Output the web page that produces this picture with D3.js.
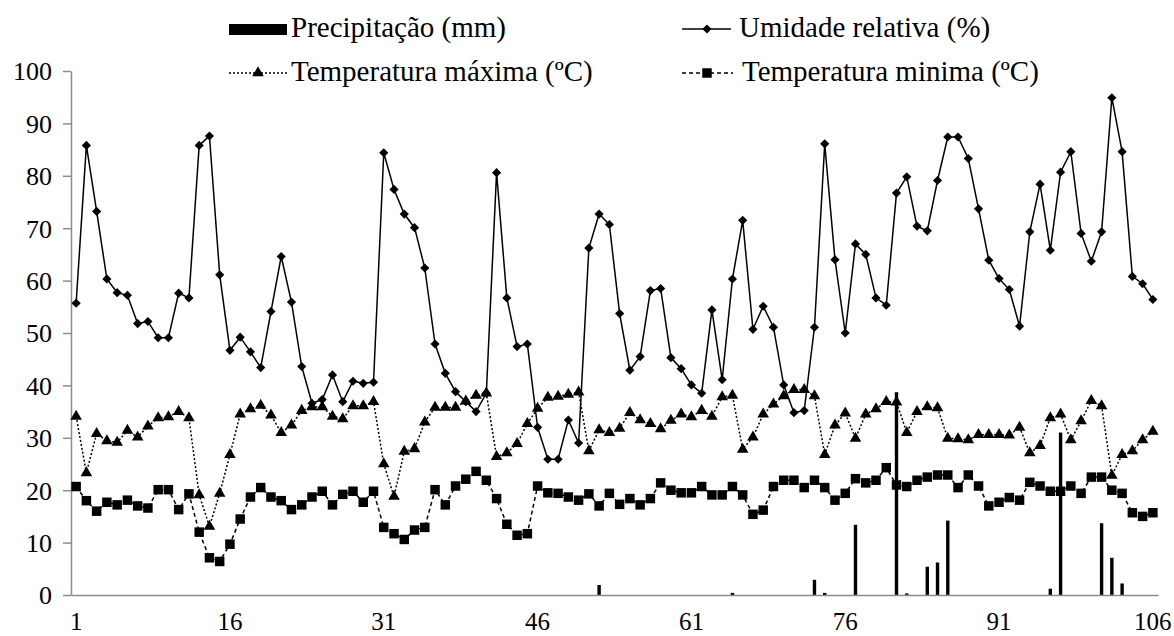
<!DOCTYPE html>
<html><head><meta charset="utf-8">
<script src="https://cdn.jsdelivr.net/npm/d3@7"></script>
<style>
body{margin:0;background:#fff}
</style></head>
<body><svg id="c" width="1174" height="636"></svg>
<script>
const days = d3.range(1, 107);
const xTickLabels = [1, 16, 31, 46, 61, 76, 91, 106];
const yTickLabels = [0, 10, 20, 30, 40, 50, 60, 70, 80, 90, 100];

const humidity = [55.7,85.8,73.2,60.3,57.7,57.2,51.8,52.2,49.1,49.1,57.6,56.7,85.8,87.6,61.1,46.7,49.2,46.4,43.4,54.1,
64.6,55.9,43.6,36.6,37.3,42.0,36.9,40.8,40.4,40.6,84.4,77.4,72.7,70.1,62.4,47.9,42.3,38.8,36.9,35.0,
38.5,80.6,56.7,47.4,47.9,32.0,25.9,25.9,33.4,29.0,66.2,72.7,70.7,53.7,42.9,45.5,58.1,58.5,45.3,43.2,
40.1,38.5,54.4,41.1,60.3,71.5,50.7,55.1,51.1,40.1,34.8,35.2,51.1,86.1,64.0,50.0,67.0,65.0,56.7,55.3,
76.7,79.8,70.4,69.5,79.1,87.4,87.4,83.3,73.7,63.9,60.4,58.3,51.3,69.3,78.4,65.8,80.7,84.6,69.0,63.7,
69.3,94.9,84.6,60.8,59.4,56.4];

const tmax = [34.1,23.3,30.8,29.4,29.1,31.4,30.1,32.2,33.8,34.0,35.0,33.8,19.1,13.1,19.4,26.8,34.5,35.5,36.2,34.3,
31.0,32.4,35.2,35.9,35.9,34.1,33.6,36.1,36.1,36.9,25.0,18.8,27.4,27.9,33.0,35.8,35.8,35.8,37.0,38.1,
38.5,26.4,27.1,28.9,32.7,35.6,37.7,37.9,38.3,38.7,27.5,31.5,31.0,31.8,34.8,33.4,32.7,31.7,33.3,34.5,
34.0,35.2,34.1,37.8,38.1,27.8,30.1,34.5,36.4,38.0,39.2,39.2,38.0,26.8,32.4,34.7,29.9,34.5,35.5,36.9,
36.8,31.0,35.0,35.9,35.7,29.9,29.8,29.6,30.6,30.6,30.6,30.5,32.0,27.1,28.5,33.8,34.5,29.6,33.2,37.1,
36.1,22.8,26.8,27.5,29.6,31.2];

const tmin = [20.7,18.0,16.0,17.7,17.2,18.1,17.0,16.6,20.1,20.1,16.3,19.3,12.0,7.1,6.4,9.7,14.5,18.7,20.5,18.7,
18.0,16.3,17.2,18.7,19.8,17.2,19.2,19.8,17.7,19.8,12.9,11.7,10.6,12.4,12.9,20.1,17.2,20.8,22.1,23.6,
21.9,18.4,13.5,11.4,11.7,20.8,19.5,19.4,18.7,18.1,19.3,17.0,19.4,17.3,18.4,17.2,18.4,21.4,20.0,19.5,
19.5,20.7,19.1,19.1,20.7,19.1,15.4,16.2,20.7,21.9,21.9,20.5,21.9,20.5,18.1,19.4,22.2,21.4,21.9,24.3,
21.0,20.7,21.9,22.5,22.9,22.9,20.5,22.9,20.8,17.0,17.7,18.6,18.1,21.5,20.8,19.8,19.8,20.8,19.4,22.5,
22.5,20.0,19.4,15.7,15.0,15.7];

const precip = [0,0,0,0,0,0,0,0,0,0,0,0,0,0,0,0,0,0,0,0,
0,0,0,0,0,0,0,0,0,0,0,0,0,0,0,0,0,0,0,0,
0,0,0,0,0,0,0,0,0,0,0,1.9,0,0,0,0,0,0,0,0,
0,0,0,0,0.4,0,0,0,0,0,0,0,2.9,0.4,0,0,13.4,0,0,0,
38.7,0.3,0,5.4,6.2,14.2,0,0,0,0,0,0,0,0,0,1.2,31.0,0,0,0,
13.7,7.1,2.2,0,0,0];

const seriesNames = ["Precipitação (mm)", "Umidade relativa (%)", "Temperatura máxima (ºC)", "Temperatura minima (ºC)"];

const FONT = "Liberation Serif";
const svg = d3.select("#c");
const L = 71, R = 1158, T = 71, B = 595;
const x = d3.scaleBand().domain(days).range([L, R]).padding(0);
const cx = d => x(d) + x.bandwidth() / 2;
const y = d3.scaleLinear().domain([0, 100]).range([B, T]);
const axisColor = "#8c8c8c";

// Y axis
const ya = svg.append("g").attr("transform", `translate(${L},0)`)
  .call(d3.axisLeft(y).tickValues(yTickLabels).tickSize(8).tickPadding(11).tickSizeOuter(0));
ya.select(".domain").attr("stroke", axisColor).attr("stroke-width", 1.5);
ya.selectAll(".tick line").attr("stroke", axisColor).attr("stroke-width", 1.5);
ya.selectAll("text").attr("font-family", FONT).attr("font-size", 26).attr("fill", "#000").attr("dy", "0.34em");

// precipitation bars
const bw = x.bandwidth() * 0.33;
svg.append("g").selectAll("rect").data(days.filter((d, i) => precip[i] > 0)).join("rect")
  .attr("x", d => cx(d) - bw / 2).attr("width", bw)
  .attr("y", d => y(precip[d - 1])).attr("height", d => B - y(precip[d - 1]))
  .attr("fill", "#000");

// X axis
const xa = svg.append("g").attr("transform", `translate(0,${B})`)
  .call(d3.axisBottom(x).tickValues(xTickLabels).tickSize(0).tickPadding(17).tickSizeOuter(0));
xa.select(".domain").attr("stroke", axisColor).attr("stroke-width", 1.5);
xa.selectAll("text").attr("font-family", FONT).attr("font-size", 25).attr("fill", "#000");

function drawLine(vals, dash) {
  svg.append("path").datum(days)
    .attr("fill", "none").attr("stroke", "#000").attr("stroke-width", 1.5)
    .attr("stroke-dasharray", dash)
    .attr("d", d3.line().x(cx).y(d => y(vals[d - 1])));
}
drawLine(humidity, null);
drawLine(tmax, "2,2");
drawLine(tmin, "4,3");

const sq = d3.symbol(d3.symbolSquare, 90)();
const dia = d3.symbol(d3.symbolSquare, 42)();
const tri = d3.symbol(d3.symbolTriangle, 58)();

function drawMarks(vals, path, rot) {
  svg.append("g").selectAll("path").data(days).join("path")
    .attr("d", path).attr("fill", "#000")
    .attr("transform", d => `translate(${cx(d)},${y(vals[d - 1])}) rotate(${rot})`);
}
drawMarks(humidity, dia, 45);
drawMarks(tmax, tri, 0);
drawMarks(tmin, sq, 0);

// Legend
const lg = svg.append("g");
const m1 = 29, m2 = 73, b1 = 37, b2 = 81;
function legText(xp, yp, s) {
  lg.append("text").attr("x", xp).attr("y", yp)
    .attr("font-family", FONT).attr("font-size", 29).attr("fill", "#000").text(s);
}
lg.append("rect").attr("x", 229).attr("y", m1 - 5).attr("width", 58).attr("height", 11).attr("fill", "#000");
legText(291, b1, seriesNames[0]);

lg.append("line").attr("x1", 682).attr("x2", 731).attr("y1", m1).attr("y2", m1).attr("stroke", "#000").attr("stroke-width", 1.5);
lg.append("path").attr("d", dia).attr("transform", `translate(707,${m1}) rotate(45)`);
legText(739, b1, seriesNames[1]);

lg.append("line").attr("x1", 229).attr("x2", 287).attr("y1", m2).attr("y2", m2).attr("stroke", "#000").attr("stroke-width", 1.5).attr("stroke-dasharray", "2,2");
lg.append("path").attr("d", tri).attr("transform", `translate(258,${m2})`);
legText(291, b2, seriesNames[2]);

lg.append("line").attr("x1", 682).attr("x2", 733).attr("y1", m2).attr("y2", m2).attr("stroke", "#000").attr("stroke-width", 1.5).attr("stroke-dasharray", "4,3");
lg.append("path").attr("d", sq).attr("transform", `translate(707,${m2})`);
legText(742, b2, seriesNames[3]);
</script></body></html>
